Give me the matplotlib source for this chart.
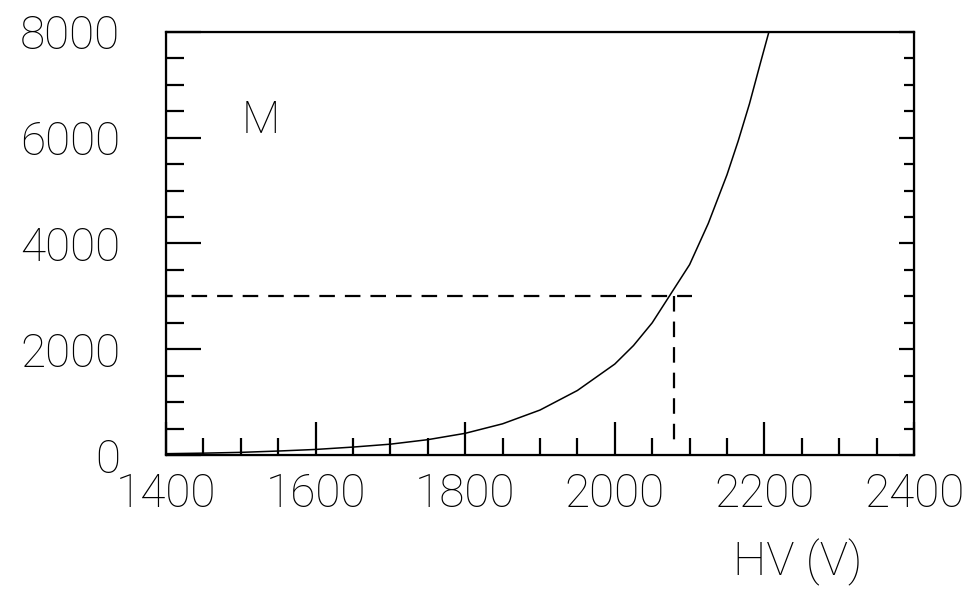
import matplotlib
matplotlib.use("Agg")
import matplotlib.pyplot as plt
from matplotlib.ticker import MultipleLocator

plt.rcParams["font.family"] = ["Roboto", "DejaVu Sans"]

# gain curve
hv = [1400, 1450, 1500, 1550, 1600, 1650, 1700, 1750, 1800, 1850, 1900,
      1950, 2000, 2025, 2050, 2075, 2100, 2125, 2150, 2165, 2180, 2195, 2206]
gain = [25, 35, 50, 75, 105, 150, 205, 290, 410, 590, 850,
        1220, 1720, 2070, 2500, 3050, 3600, 4380, 5300, 5940, 6640, 7430, 8000]

# operating point marked with dashed guides
op_hv = 2079
op_gain = 3000
guide_x_end = 2103
guide_y_end = 130

xticks = [1400, 1600, 1800, 2000, 2200, 2400]
yticks = [0, 2000, 4000, 6000, 8000]

fig = plt.figure(figsize=(9.74, 5.89), dpi=100)
ax = fig.add_axes([0.1704, 0.2275, 0.768, 0.7182])

ax.plot(hv, gain, color="black", linewidth=1.1)
ax.plot([1400, guide_x_end], [op_gain, op_gain], color="black",
        linewidth=1.6, dashes=(7, 4.5))
ax.plot([op_hv, op_hv], [op_gain, guide_y_end], color="black",
        linewidth=1.6, dashes=(7, 4.5))

ax.text(1527, 6320, "M", fontsize=32, fontweight="light",
        ha="center", va="center")

ax.set_xlim(1400, 2400)
ax.set_ylim(0, 8000)
ax.set_xticks(xticks)
ax.set_yticks(yticks)
ax.xaxis.set_minor_locator(MultipleLocator(50))
ax.yaxis.set_minor_locator(MultipleLocator(500))

for spine in ax.spines.values():
    spine.set_linewidth(1.6)

ax.tick_params(axis="both", which="both", direction="in", width=1.6,
               labelsize=33)
ax.tick_params(axis="y", which="major", length=25, pad=33)
ax.tick_params(axis="y", which="minor", length=13)
ax.tick_params(axis="x", which="major", length=24, pad=12)
ax.tick_params(axis="x", which="minor", length=12)
for lab in ax.get_xticklabels() + ax.get_yticklabels():
    lab.set_fontweight("light")

# right-hand ticks are shorter
ax2 = ax.twinx()
ax2.set_ylim(0, 8000)
ax2.set_yticks(yticks)
ax2.yaxis.set_minor_locator(MultipleLocator(500))
ax2.tick_params(axis="y", which="both", direction="in", width=1.6,
                labelright=False)
ax2.tick_params(axis="y", which="major", length=11)
ax2.tick_params(axis="y", which="minor", length=7)

fig.text(0.8193, 0.0238, "HV (V)", fontsize=34, fontweight="light",
         ha="center", va="baseline")

fig.savefig("out.png", dpi=100)
